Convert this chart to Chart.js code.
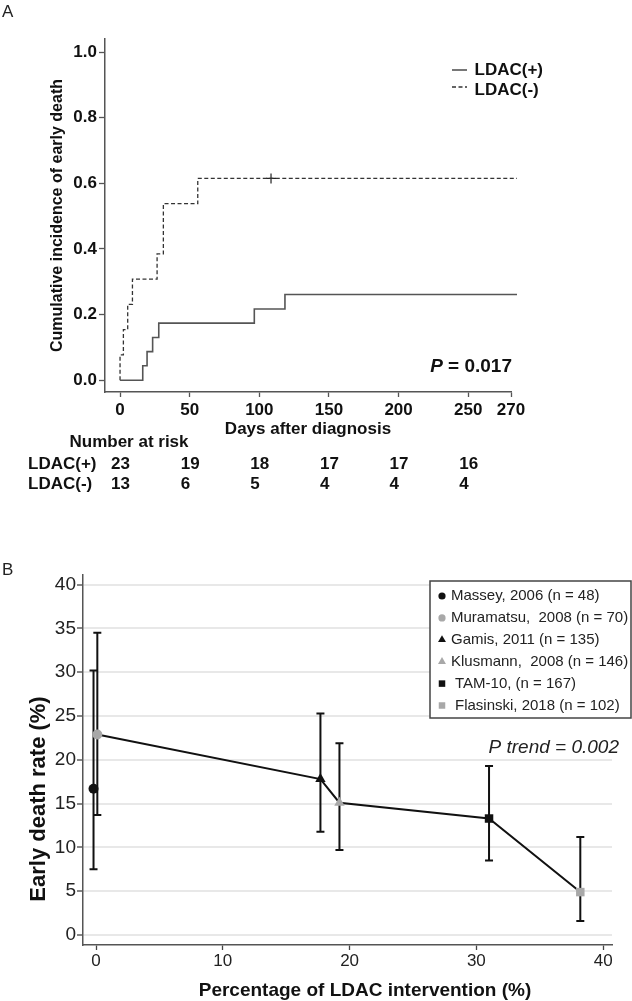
<!DOCTYPE html>
<html>
<head>
<meta charset="utf-8">
<script src="https://cdn.jsdelivr.net/npm/chart.js@4.4.0/dist/chart.umd.min.js"></script>
<style>
  html, body { margin: 0; padding: 0; background: #fff; }
  #wrap { position: relative; width: 632px; height: 1001px; }
  canvas { position: absolute; left: 0; }
  #chartA { top: 0; }
  #chartB { top: 520px; }
</style>
</head>
<body>
<div id="wrap">
  <canvas id="chartA" width="632" height="520"></canvas>
  <canvas id="chartB" width="632" height="481"></canvas>
</div>
<script>
// ---- panel A: cumulative incidence of early death ----
let daysPlus = [0, 16.3, 19.4, 23.4, 27.8, 96.4, 118.4, 285]
let incPlus = [0, 0.044, 0.087, 0.130, 0.174, 0.217, 0.261, 0.261]
let daysMinus = [0, 0, 2.4, 5.5, 8.9, 26.6, 31.1, 55.8, 285]
let incMinus = [0, 0.077, 0.154, 0.231, 0.308, 0.385, 0.538, 0.615, 0.615]
let censorDays = [108.4]
let censorInc = [0.615]
let xTicksA = [0, 50, 100, 150, 200, 250]
let xEndLabelA = '270' // the original marks the end of its axis as 270
let yTicksA = [0, 0.2, 0.4, 0.6, 0.8, 1.0]
let riskDays = [0, 50, 100, 150, 200, 250]
let riskPlus = [23, 19, 18, 17, 17, 16]
let riskMinus = [13, 6, 5, 4, 4, 4]
let pValueA = '0.017'

// ---- panel B: early death rate vs LDAC intervention ----
let studies = ['Massey, 2006 (n = 48)', 'Muramatsu,  2008 (n = 70)', 'Gamis, 2011 (n = 135)',
  'Klusmann,  2008 (n = 146)', 'TAM-10, (n = 167)', 'Flasinski, 2018 (n = 102)']
let ldacPct = [-0.2, 0.1, 17.7, 19.2, 31.0, 38.2]
let deathRate = [16.7, 22.9, 17.8, 15.1, 13.3, 4.9]
let ciLow = [7.5, 13.7, 11.8, 9.7, 8.5, 1.6]
let ciHigh = [30.2, 34.5, 25.3, 21.9, 19.3, 11.2]
let markers = ['circle', 'circle', 'triangle', 'triangle', 'rect', 'rect']
let markerColours = ['#111111', '#a8a8a8', '#111111', '#a8a8a8', '#111111', '#a8a8a8']
let trendStudies = [1, 2, 3, 4, 5]
let xTicksB = [0, 10, 20, 30, 40]
let yTicksB = [0, 5, 10, 15, 20, 25, 30, 35, 40]
let pTrend = '0.002'

let FONT = '"Liberation Sans", Arial, sans-serif'
Chart.defaults.font.family = FONT

function pairs(xs, ys) {
  return xs.map((x, i) => ({x: x, y: ys[i]}))
}

function text(ctx, str, x, y, font, align, colour) {
  ctx.save()
  ctx.font = font
  ctx.fillStyle = colour || '#111'
  ctx.textAlign = align || 'left'
  ctx.textBaseline = 'middle'
  ctx.fillText(str, x, y)
  ctx.restore()
}

let panelA = {
  id: 'panelA',
  afterDraw(chart) {
    let ctx = chart.ctx
    let xs = chart.scales.x
    text(ctx, 'A', 2, 12, '17px ' + FONT, 'left', '#222')

    // legend
    let rowsY = [70, 90]
    chart.data.datasets.filter(d => d.inLegend).forEach((d, i) => {
      ctx.save()
      ctx.strokeStyle = d.borderColor
      ctx.lineWidth = d.borderWidth
      ctx.setLineDash(d.borderDash || [])
      ctx.beginPath()
      ctx.moveTo(452, rowsY[i] - (i ? 3 : 0))
      ctx.lineTo(467, rowsY[i] - (i ? 3 : 0))
      ctx.stroke()
      ctx.restore()
      text(ctx, d.label, 474.5, rowsY[i], 'bold 17px ' + FONT)
    })

    // p value
    ctx.save()
    ctx.font = 'bold 19px ' + FONT
    let rest = ' = ' + pValueA
    let restW = ctx.measureText(rest).width
    ctx.restore()
    text(ctx, rest, 512, 367, 'bold 19px ' + FONT, 'right')
    text(ctx, 'P', 512 - restW, 367, 'italic bold 19px ' + FONT, 'right')

    // number at risk table
    text(ctx, 'Number at risk', 129, 442, 'bold 17px ' + FONT, 'center')
    let rows = [['LDAC(+)', riskPlus, 464], ['LDAC(-)', riskMinus, 484]]
    for (let [name, vals, y] of rows) {
      text(ctx, name, 28, y, 'bold 17px ' + FONT)
      vals.forEach((v, i) => {
        text(ctx, String(v), xs.getPixelForValue(riskDays[i]) - 9, y, 'bold 17px ' + FONT)
      })
    }
  },
}

new Chart(document.getElementById('chartA'), {
  type: 'line',
  data: {
    datasets: [
      {
        label: 'LDAC(+)',
        inLegend: true,
        data: pairs(daysPlus, incPlus),
        stepped: 'before',
        borderColor: '#555',
        borderWidth: 1.6,
        pointRadius: 0,
        clip: false,
      },
      {
        label: 'LDAC(-)',
        inLegend: true,
        data: pairs(daysMinus, incMinus),
        stepped: 'before',
        borderColor: '#333',
        borderWidth: 1.3,
        borderDash: [4, 2.5],
        pointRadius: 0,
        clip: false,
      },
      {
        label: 'censored',
        data: pairs(censorDays, censorInc),
        showLine: false,
        pointStyle: 'cross',
        pointRadius: 5,
        borderColor: '#222',
        borderWidth: 1.2,
      },
    ],
  },
  options: {
    responsive: false,
    animation: false,
    devicePixelRatio: 1,
    events: [],
    layout: {padding: {left: 0, top: 39, right: 121, bottom: 0}},
    plugins: {legend: {display: false}, tooltip: {enabled: false}},
    scales: {
      x: {
        type: 'linear',
        min: -10.8,
        max: 280.7,
        afterFit: s => { s.height = 128 },
        afterBuildTicks: s => { s.ticks = xTicksA.concat([s.max]).map(v => ({value: v})) },
        grid: {drawOnChartArea: false, tickLength: 5, tickColor: '#555', tickWidth: 1.3},
        border: {color: '#555', width: 1.5},
        ticks: {
          padding: 3,
          color: '#111',
          autoSkip: false,
          maxRotation: 0,
          font: {size: 17, weight: 'bold'},
          callback: v => (xTicksA.includes(v) ? String(v) : xEndLabelA),
        },
        title: {
          display: true,
          text: 'Days after diagnosis',
          color: '#111',
          font: {size: 17, weight: 'bold', lineHeight: 1.2},
          padding: {top: 0, bottom: 80.5},
        },
      },
      y: {
        type: 'linear',
        min: -0.036,
        max: 1.04,
        afterFit: s => { s.width = 105 },
        afterBuildTicks: s => { s.ticks = yTicksA.map(v => ({value: v})) },
        grid: {drawOnChartArea: false, tickLength: 6, tickColor: '#555', tickWidth: 1.3},
        border: {color: '#555', width: 1.5},
        ticks: {padding: 2, color: '#111', font: {size: 17, weight: 'bold'}, callback: v => v.toFixed(1)},
        title: {
          display: true,
          text: 'Cumulative incidence of early death',
          color: '#111',
          font: {size: 16, weight: 'bold', lineHeight: 1.2},
          padding: {top: 48.4, bottom: 0},
        },
      },
    },
  },
  plugins: [panelA],
})

let panelB = {
  id: 'panelB',
  beforeDatasetsDraw(chart) {
    let ctx = chart.ctx
    let xs = chart.scales.x
    let ys = chart.scales.y
    ctx.save()
    ctx.strokeStyle = '#111'
    ctx.lineWidth = 2
    for (let i = 0; i < ldacPct.length; i++) {
      let px = xs.getPixelForValue(ldacPct[i])
      let lo = ys.getPixelForValue(ciLow[i])
      let hi = ys.getPixelForValue(ciHigh[i])
      ctx.beginPath()
      ctx.moveTo(px, lo)
      ctx.lineTo(px, hi)
      ctx.moveTo(px - 4, lo)
      ctx.lineTo(px + 4, lo)
      ctx.moveTo(px - 4, hi)
      ctx.lineTo(px + 4, hi)
      ctx.stroke()
    }
    ctx.restore()
  },
  afterDraw(chart) {
    let ctx = chart.ctx
    text(ctx, 'B', 2, 50, '17px ' + FONT, 'left', '#222')

    // axis titles
    ctx.save()
    ctx.translate(39, 279)
    ctx.rotate(-Math.PI / 2)
    text(ctx, 'Early death rate (%)', 0, 0, 'bold 22px ' + FONT, 'center', '#111')
    ctx.restore()
    text(ctx, 'Percentage of LDAC intervention (%)', 365, 470.5, 'bold 19px ' + FONT, 'center', '#111')

    // legend box
    ctx.save()
    ctx.fillStyle = '#fff'
    ctx.strokeStyle = '#444'
    ctx.lineWidth = 1.5
    ctx.fillRect(430, 61, 201, 137)
    ctx.strokeRect(430, 61, 201, 137)
    ctx.restore()
    let legendItems = chart.data.datasets.filter(d => d.inLegend)
    legendItems.forEach((d, i) => {
      let y = 76 + i * 21.9
      ctx.save()
      ctx.fillStyle = d.backgroundColor
      Chart.helpers.drawPoint(ctx, {pointStyle: d.pointStyle, radius: d.pointStyle === 'circle' ? 3.6 : 4.6, rotation: 0, borderWidth: 0}, 442, y)
      ctx.restore()
      text(ctx, d.label, d.pointStyle === 'rect' ? 455 : 451, y, '15px ' + FONT, 'left', '#222')
    })

    // p trend
    text(ctx, 'P trend = ' + pTrend, 619, 228, 'italic 19px ' + FONT, 'right', '#222')
  },
}

let studyDatasets = studies.map((name, i) => ({
  label: name,
  inLegend: true,
  data: [{x: ldacPct[i], y: deathRate[i]}],
  showLine: false,
  pointStyle: markers[i],
  pointRadius: markers[i] === 'circle' ? 5 : 6,
  backgroundColor: markerColours[i],
  borderColor: markerColours[i],
  borderWidth: 0,
  order: 0,
}))

new Chart(document.getElementById('chartB'), {
  type: 'line',
  data: {
    datasets: [
      {
        label: 'trend',
        data: trendStudies.map(i => ({x: ldacPct[i], y: deathRate[i]})),
        borderColor: '#111',
        borderWidth: 2,
        pointRadius: 0,
        order: 1,
      },
    ].concat(studyDatasets),
  },
  options: {
    responsive: false,
    animation: false,
    devicePixelRatio: 1,
    events: [],
    layout: {padding: {left: 0, top: 55, right: 20, bottom: 0}},
    plugins: {legend: {display: false}, tooltip: {enabled: false}},
    scales: {
      x: {
        type: 'linear',
        min: -1.03,
        max: 40.7,
        afterFit: s => { s.height = 56 },
        afterBuildTicks: s => { s.ticks = xTicksB.map(v => ({value: v})) },
        grid: {drawOnChartArea: false, tickLength: 5, tickColor: '#444', tickWidth: 1.3},
        border: {color: '#555', width: 1.5},
        ticks: {padding: 1, color: '#222', autoSkip: false, maxRotation: 0, font: {size: 17}},
      },
      y: {
        type: 'linear',
        min: -1.14,
        max: 41.1,
        afterFit: s => { s.width = 83 },
        afterBuildTicks: s => { s.ticks = yTicksB.map(v => ({value: v})) },
        grid: {color: '#e8e8e8', lineWidth: 2, tickLength: 6, tickColor: '#444', tickWidth: 1.3},
        border: {color: '#555', width: 1.5},
        ticks: {padding: 1, color: '#222', font: {size: 19}},
      },
    },
  },
  plugins: [panelB],
})
</script>
</body>
</html>
